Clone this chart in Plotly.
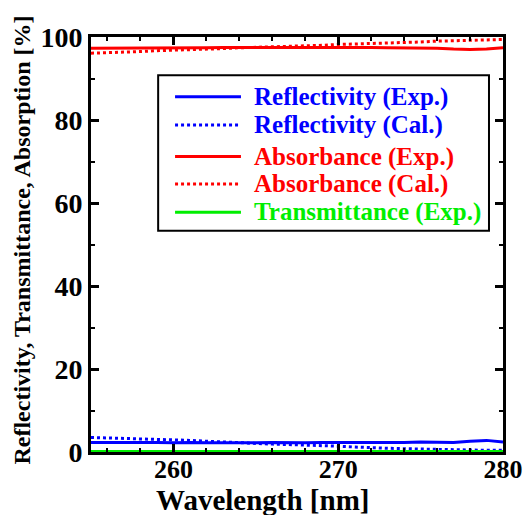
import plotly.graph_objects as go

wavelength = list(range(255, 281))
refl_exp = [2.3, 2.3, 2.4, 2.3, 2.3, 2.2, 2.3, 2.2, 2.2, 2.1, 2.2, 2.3, 2.2, 2.2, 2.3, 2.3, 2.2, 2.3, 2.2, 2.3, 2.4, 2.3, 2.3, 2.6, 2.8, 2.4]
refl_cal = [3.5, 3.4, 3.3, 3.1, 3.0, 2.9, 2.8, 2.6, 2.4, 2.2, 2.0, 1.9, 1.8, 1.7, 1.6, 1.4, 1.2, 1.0, 0.9, 0.8, 0.7, 0.6, 0.5, 0.5, 0.4, 0.4]
abs_exp = [97.3, 97.3, 97.3, 97.4, 97.4, 97.4, 97.4, 97.4, 97.5, 97.5, 97.5, 97.5, 97.6, 97.6, 97.6, 97.6, 97.5, 97.5, 97.4, 97.4, 97.4, 97.3, 97.1, 97.0, 97.1, 97.4]
abs_cal = [96.1, 96.2, 96.4, 96.5, 96.7, 96.8, 97.0, 97.1, 97.2, 97.4, 97.5, 97.6, 97.8, 97.9, 98.0, 98.2, 98.3, 98.5, 98.6, 98.7, 98.8, 99.0, 99.1, 99.2, 99.3, 99.4]
trans_exp = [0.1] * 26

series_names = ["Reflectivity (Exp.)", "Reflectivity (Cal.)", "Absorbance (Exp.)",
                "Absorbance (Cal.)", "Transmittance (Exp.)"]
series_vals = [refl_exp, refl_cal, abs_exp, abs_cal, trans_exp]
series_colors = ["#0000ff", "#0000ff", "#ff0000", "#ff0000", "#00ee00"]
series_dash = ["solid", "dot", "solid", "dot", "solid"]

x_title = "Wavelength [nm]"
y_title = "Reflectivity, Transmittance, Absorption [%]"

FONT = "Liberation Serif, Times New Roman, serif"

fig = go.Figure()
for name, vals, col, dash in zip(series_names, series_vals, series_colors, series_dash):
    fig.add_trace(go.Scatter(x=wavelength, y=vals, mode="lines", name=name,
                             line=dict(color=col, width=3, dash=dash), showlegend=False))

# manual legend
fig.add_shape(type="rect", xref="paper", yref="paper", x0=0.163, x1=0.966, y0=0.533, y1=0.908,
              line=dict(color="black", width=2), fillcolor="white", layer="above")
rows_y = [0.856, 0.788, 0.712, 0.646, 0.578]
for name, col, dash, yy in zip(series_names, series_colors, series_dash, rows_y):
    fig.add_shape(type="line", xref="paper", yref="paper", x0=0.204, x1=0.364, y0=yy, y1=yy,
                  line=dict(color=col, width=3, dash=dash), layer="above")
    fig.add_annotation(xref="paper", yref="paper", x=0.391, y=yy, text="<b>%s</b>" % name,
                       showarrow=False, xanchor="left", yanchor="middle",
                       font=dict(family=FONT, size=25, color=col))

# axis titles
fig.add_annotation(xref="paper", yref="paper", x=0.417, y=-0.116, text="<b>%s</b>" % x_title,
                   showarrow=False, xanchor="center", yanchor="middle",
                   font=dict(family=FONT, size=29, color="black"))
fig.add_annotation(xref="paper", yref="paper", x=-0.167, y=0.51, text="<b>%s</b>" % y_title,
                   showarrow=False, xanchor="center", yanchor="middle", textangle=-90,
                   font=dict(family=FONT, size=24, color="black"))

axis_common = dict(
    showline=True, linecolor="black", linewidth=3, mirror="allticks",
    ticks="inside", ticklen=8, tickwidth=3, tickcolor="black",
    showgrid=False, zeroline=False, automargin=False,
)
fig.update_xaxes(range=[255, 280], tickvals=[260, 270, 280], ticktext=["<b>260</b>", "<b>270</b>", "<b>280</b>"],
                 minor=dict(dtick=2, tick0=254, ticks="inside", ticklen=4, tickwidth=2, tickcolor="black"),
                 ticklabelstandoff=-8, tickfont=dict(family=FONT, size=26, color="black"),
                 **axis_common)
fig.update_yaxes(range=[0, 100], tickvals=[0, 20, 40, 60, 80, 100],
                 ticktext=["<b>%d</b>" % v for v in [0, 20, 40, 60, 80, 100]],
                 minor=dict(dtick=10, ticks="inside", ticklen=4, tickwidth=2, tickcolor="black"),
                 tickfont=dict(family=FONT, size=28, color="black"),
                 **axis_common)

fig.update_layout(width=531, height=515, margin=dict(l=91, r=28, t=37, b=63),
                  plot_bgcolor="white", paper_bgcolor="white", showlegend=False)

fig.write_html("out.html")
